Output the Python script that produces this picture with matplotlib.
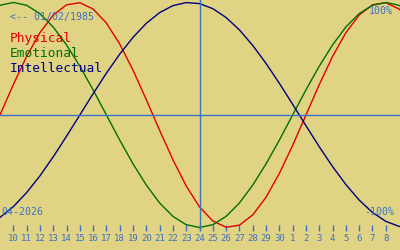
import numpy as np
import matplotlib
matplotlib.use('Agg')
import matplotlib.pyplot as plt

# days shown on the axis (index 0..28), today = 24 (index 14)
day_labels = ['10', '11', '12', '13', '14', '15', '16', '17', '18', '19', '20',
              '21', '22', '23', '24', '25', '26', '27', '28', '29', '30',
              '1', '2', '3', '4', '5', '6', '7', '8']

# curve values sampled once a day, from the day before the first label to the day after the last
days = np.arange(-1, 31)
physical = [0.0, 0.27, 0.52, 0.731, 0.888, 0.979, 0.998, 0.942, 0.817, 0.631, 0.398,
            0.136, -0.136, -0.398, -0.631, -0.817, -0.942, -0.998, -0.979, -0.888,
            -0.731, -0.52, -0.27, 0.0, 0.27, 0.52, 0.731, 0.888, 0.979, 0.998, 0.942, 0.817]
emotional = [0.975, 1.0, 0.975, 0.901, 0.782, 0.623, 0.434, 0.223, 0.0, -0.223, -0.434,
             -0.623, -0.782, -0.901, -0.975, -1.0, -0.975, -0.901, -0.782, -0.623,
             -0.434, -0.223, 0.0, 0.223, 0.434, 0.623, 0.782, 0.901, 0.975, 1.0, 0.975, 0.901]
intellectual = [-0.91, -0.815, -0.69, -0.541, -0.372, -0.189, 0.0, 0.189, 0.372, 0.541,
                0.69, 0.815, 0.91, 0.972, 0.999, 0.99, 0.945, 0.866, 0.756, 0.618, 0.458,
                0.282, 0.095, -0.095, -0.282, -0.458, -0.618, -0.756, -0.866, -0.945,
                -0.99, -0.999]

bg = '#e0d384'
blue = '#3a72c4'
red = '#e00000'
green = '#007000'
navy = '#000080'
mono = 'DejaVu Sans Mono'

fig = plt.figure(figsize=(4, 2.5), dpi=100, facecolor=bg)
ax = fig.add_axes([0, 19 / 250, 1, 231 / 250])
ax.set_facecolor(bg)

ax.plot(days, physical, color=red, lw=1.0)
ax.plot(days, emotional, color=green, lw=1.0)
ax.plot(days, intellectual, color=navy, lw=1.0)

ax.axhline(0, color=blue, lw=1.0)
ax.axvline(14, color=blue, lw=1.0)

ax.set_xlim(-1, 29.07)
ax.set_ylim(-1.031, 1.022)

for s in ax.spines.values():
    s.set_visible(False)
ax.set_yticks([])
ax.set_xticks(range(len(day_labels)))
ax.set_xticklabels(day_labels, fontfamily=mono, fontsize=6.5, color=blue)
ax.tick_params(axis='x', direction='in', length=4.3, width=1.0, color=blue, pad=2)

def px_text(x, y, s, **kw):
    fig.text(x / 400, 1 - y / 250, s, fontfamily=mono, **kw)

px_text(10, 16.5, '<-- 01/02/1985', fontsize=7.1, color=blue, va='center')
px_text(393, 11.5, '100%', fontsize=7.1, color=blue, va='center', ha='right')
px_text(394, 212, '-100%', fontsize=7.1, color=blue, va='center', ha='right')
px_text(1.5, 212, '04-2026', fontsize=7.1, color=blue, va='center')
px_text(10, 42, 'Physical', fontsize=9.3, color=red, va='baseline')
px_text(10, 57, 'Emotional', fontsize=9.3, color=green, va='baseline')
px_text(10, 72, 'Intellectual', fontsize=9.3, color=navy, va='baseline')

fig.savefig('out.png', dpi=100, facecolor=bg)
